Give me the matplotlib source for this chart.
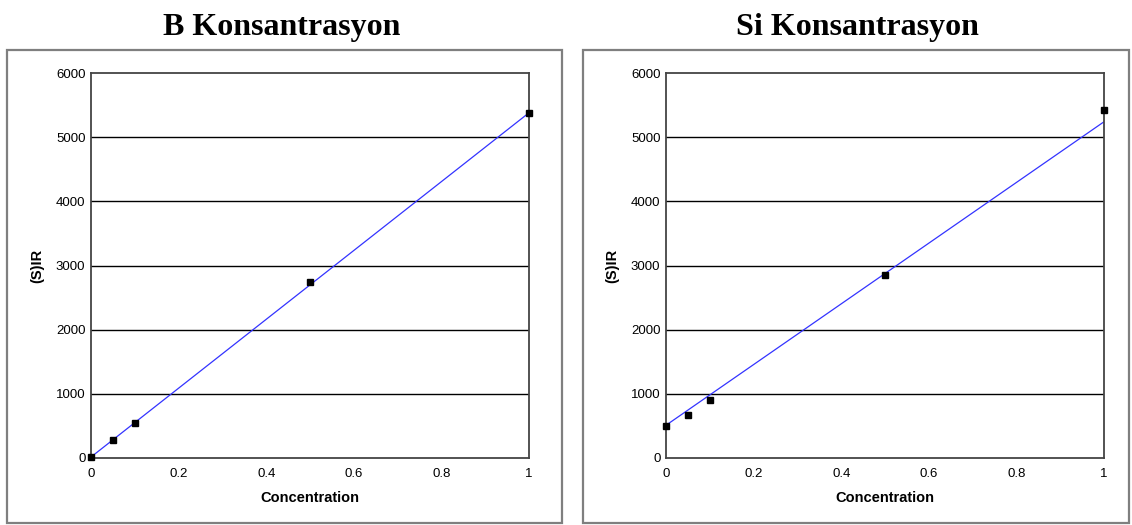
import numpy as np
import matplotlib
matplotlib.use('Agg')
import matplotlib.pyplot as plt
from matplotlib.patches import Rectangle

conc = [0, 0.05, 0.1, 0.5, 1.0]
b_ir = [10, 280, 545, 2740, 5380]
si_ir = [500, 670, 905, 2850, 5420]
# trend lines: (intercept, slope)
b_fit = (15, 5365)
si_fit = (510, 4730)
titles = ['B Konsantrasyon', 'Si Konsantrasyon']
y_ticks = [0, 1000, 2000, 3000, 4000, 5000, 6000]
x_ticks = [0, 0.2, 0.4, 0.6, 0.8, 1]
x_labels = ['0', '0.2', '0.4', '0.6', '0.8', '1']

W, H = 1132, 525
fig = plt.figure(figsize=(W / 100, H / 100), dpi=100)

panels = [
    dict(frame=(7, 50, 562, 523), ax=(91, 73, 529, 458), tx=282, y=b_ir, fit=b_fit, title=titles[0]),
    dict(frame=(583, 50, 1129, 523), ax=(666, 73, 1104, 458), tx=857, y=si_ir, fit=si_fit, title=titles[1]),
]

for p in panels:
    fx0, fy0, fx1, fy1 = p['frame']
    fig.patches.append(Rectangle((fx0 / W, 1 - fy1 / H), (fx1 - fx0) / W, (fy1 - fy0) / H,
                                 transform=fig.transFigure, fill=False, edgecolor='#7f7f7f', lw=1.6))
    fig.text(p['tx'] / W, 1 - 35 / H, p['title'], ha='center', va='baseline',
             family='Liberation Serif', weight='bold', size=23)

    x0, y0, x1, y1 = p['ax']
    ax = fig.add_axes([x0 / W, 1 - y1 / H, (x1 - x0) / W, (y1 - y0) / H])
    for yt in y_ticks[1:-1]:
        ax.axhline(yt, color='black', lw=1.0, zorder=1)
    xs = np.array([0, 1])
    ax.plot(xs, p['fit'][0] + p['fit'][1] * xs, color='#3333ff', lw=0.9, zorder=2)
    ax.plot(conc, p['y'], 's', color='black', ms=5, zorder=3, clip_on=False)
    ax.set_xlim(0, 1)
    ax.set_ylim(0, 6000)
    ax.set_xticks(x_ticks)
    ax.set_xticklabels(x_labels)
    ax.set_yticks(y_ticks)
    ax.tick_params(length=0, labelsize=9.5)
    ax.tick_params(axis='x', pad=7)
    ax.tick_params(axis='y', pad=4)
    for lab in ax.get_xticklabels() + ax.get_yticklabels():
        lab.set_family('Liberation Sans')
    for s in ax.spines.values():
        s.set_color('#444444')
        s.set_linewidth(1.3)
    ax.set_xlabel('Concentration', family='Liberation Sans', weight='bold', size=10.5, labelpad=8)
    ax.set_ylabel('(S)IR', family='Liberation Sans', weight='bold', size=10.5, labelpad=8)

fig.savefig('out.png', dpi=100)
